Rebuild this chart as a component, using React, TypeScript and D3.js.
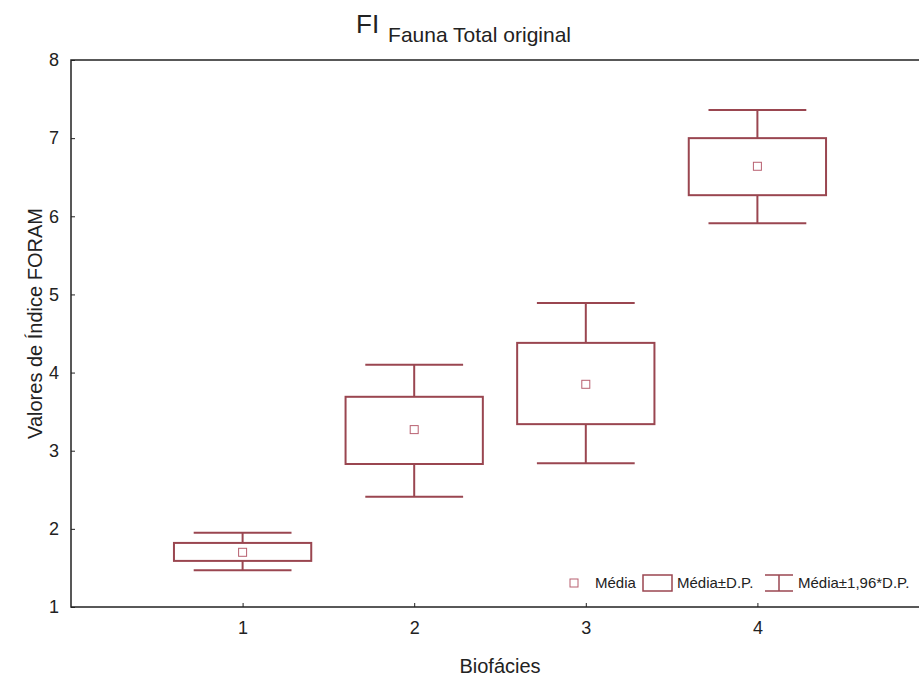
import React, { useEffect, useRef } from "react";
import * as d3 from "d3";

// Biofácies groups and their statistics (FORAM index)
const groups = [1, 2, 3, 4];
const means = [1.7, 3.27, 3.85, 6.64];
const boxLow = [1.59, 2.83, 3.34, 6.27]; // média - D.P.
const boxHigh = [1.82, 3.69, 4.38, 7.0]; // média + D.P.
const whiskLow = [1.47, 2.41, 2.84, 5.91]; // média - 1,96*D.P.
const whiskHigh = [1.95, 4.1, 4.89, 7.36]; // média + 1,96*D.P.
const yTicks = [1, 2, 3, 4, 5, 6, 7, 8];

const RED = "#9a4650";
const FONT = "'Liberation Sans', Arial, sans-serif";

export default function App() {
  const ref = useRef<SVGSVGElement | null>(null);

  useEffect(() => {
    const svg = d3.select(ref.current);
    svg.selectAll("*").remove();

    const left = 71, top = 60, bottom = 607, right = 929;
    const x = d3.scaleLinear().domain([0, 5]).range([left, right]);
    const y = d3.scaleLinear().domain([1, 8]).range([bottom, top]);
    const unit = x(1) - x(0);
    const boxHalf = unit * 0.4;
    const capHalf = unit * 0.285;

    svg.append("rect").attr("width", 919).attr("height", 677).attr("fill", "#fff");

    // frame
    svg.append("rect")
      .attr("x", left).attr("y", top)
      .attr("width", right - left).attr("height", bottom - top)
      .attr("fill", "none").attr("stroke", "#222").attr("stroke-width", 1.5);

    // y axis
    const ya = svg.append("g").attr("transform", `translate(${left},0)`)
      .call(d3.axisLeft(y).tickValues(yTicks).tickFormat(d3.format("d"))
        .tickSizeInner(-4).tickSizeOuter(0).tickPadding(12));
    ya.attr("font-size", null).attr("font-family", null);
    ya.select(".domain").remove();
    ya.selectAll("line").attr("stroke", "#222");
    ya.selectAll("text").style("font-family", FONT).style("font-size", "18px").attr("fill", "#222");

    // x axis
    const xa = svg.append("g").attr("transform", `translate(0,${bottom})`)
      .call(d3.axisBottom(x).tickValues(groups).tickFormat(d3.format("d"))
        .tickSizeInner(-4).tickSizeOuter(0).tickPadding(14));
    xa.attr("font-size", null).attr("font-family", null);
    xa.select(".domain").remove();
    xa.selectAll("line").attr("stroke", "#222");
    xa.selectAll("text").style("font-family", FONT).style("font-size", "18px").attr("fill", "#222");

    // boxes
    const g = svg.append("g").attr("stroke", RED).attr("stroke-width", 2).attr("fill", "none");
    groups.forEach((grp, i) => {
      const cx = x(grp);
      g.append("line").attr("x1", cx).attr("x2", cx).attr("y1", y(whiskHigh[i])).attr("y2", y(boxHigh[i]));
      g.append("line").attr("x1", cx).attr("x2", cx).attr("y1", y(boxLow[i])).attr("y2", y(whiskLow[i]));
      g.append("line").attr("x1", cx - capHalf).attr("x2", cx + capHalf).attr("y1", y(whiskHigh[i])).attr("y2", y(whiskHigh[i]));
      g.append("line").attr("x1", cx - capHalf).attr("x2", cx + capHalf).attr("y1", y(whiskLow[i])).attr("y2", y(whiskLow[i]));
      g.append("rect")
        .attr("x", cx - boxHalf).attr("y", y(boxHigh[i]))
        .attr("width", boxHalf * 2).attr("height", y(boxLow[i]) - y(boxHigh[i]));
      g.append("rect")
        .attr("x", cx - 4).attr("y", y(means[i]) - 4)
        .attr("width", 8).attr("height", 8)
        .attr("stroke-width", 1).attr("stroke", "#b86070");
    });

    // legend
    const ly = 583;
    const lg = svg.append("g").attr("font-family", FONT).attr("font-size", 15).attr("fill", "#222");
    lg.append("rect").attr("x", 570).attr("y", ly - 4).attr("width", 8).attr("height", 8)
      .attr("fill", "none").attr("stroke", "#b86070");
    lg.append("text").attr("x", 595).attr("y", ly + 5).text("Média");
    lg.append("rect").attr("x", 643).attr("y", ly - 8).attr("width", 29).attr("height", 16)
      .attr("fill", "none").attr("stroke", RED).attr("stroke-width", 1.5);
    lg.append("text").attr("x", 677).attr("y", ly + 5).text("Média±D.P.");
    const wx = 779;
    lg.append("line").attr("x1", wx - 14).attr("x2", wx + 14).attr("y1", ly - 8).attr("y2", ly - 8)
      .attr("stroke", RED).attr("stroke-width", 1.5);
    lg.append("line").attr("x1", wx).attr("x2", wx).attr("y1", ly - 8).attr("y2", ly + 8)
      .attr("stroke", RED).attr("stroke-width", 1.5);
    lg.append("line").attr("x1", wx - 14).attr("x2", wx + 14).attr("y1", ly + 8).attr("y2", ly + 8)
      .attr("stroke", RED).attr("stroke-width", 1.5);
    lg.append("text").attr("x", 798).attr("y", ly + 5).text("Média±1,96*D.P.");

    // title
    const t = svg.append("text").attr("font-family", FONT).attr("fill", "#222")
      .attr("x", 356).attr("y", 33);
    t.append("tspan").attr("font-size", 26).text("FI");
    t.append("tspan").attr("font-size", 21).attr("dx", 9).attr("dy", 9).text("Fauna Total original");

    // axis titles
    svg.append("text").attr("font-family", FONT).attr("font-size", 20).attr("fill", "#222")
      .attr("text-anchor", "middle").attr("x", (left + right) / 2).attr("y", 673).text("Biofácies");
    svg.append("text").attr("font-family", FONT).attr("font-size", 20).attr("fill", "#222")
      .attr("text-anchor", "middle")
      .attr("transform", `translate(42,${(top + bottom) / 2 - 10}) rotate(-90)`)
      .text("Valores de Índice FORAM");
  }, []);

  return (
    <svg ref={ref} width={919} height={677}
      style={{ display: "block", position: "absolute", left: 0, top: 0 }} />
  );
}
